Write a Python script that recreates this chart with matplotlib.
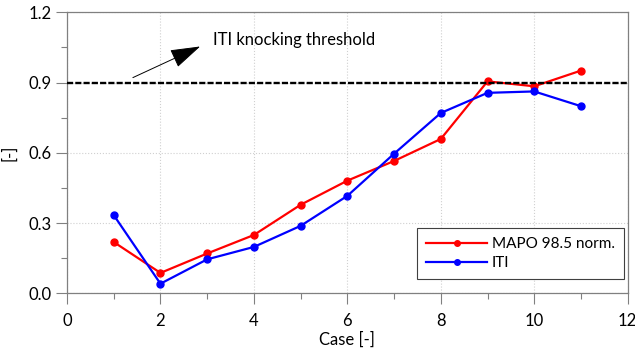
import matplotlib.pyplot as plt
from matplotlib.ticker import MultipleLocator

plt.rcParams['font.family'] = ['Lato', 'DejaVu Sans']

cases = [1, 2, 3, 4, 5, 6, 7, 8, 9, 10, 11]
mapo = [0.219, 0.087, 0.170, 0.249, 0.378, 0.481, 0.565, 0.659, 0.905, 0.884, 0.951]
iti = [0.334, 0.041, 0.145, 0.198, 0.288, 0.416, 0.596, 0.770, 0.856, 0.862, 0.799]
threshold = 0.9

fig = plt.figure(figsize=(6.35, 3.51), dpi=100)
ax = fig.add_axes([0.1055, 0.1644, 0.883, 0.8006])

ax.plot(cases, mapo, color='#ff0000', marker='o', markersize=5, lw=1.6, label='MAPO 98.5 norm.', zorder=3)
ax.plot(cases, iti, color='#0000ff', marker='o', markersize=5, lw=1.6, label='ITI', zorder=3)
ax.axhline(threshold, color='black', linestyle=(0, (2.6, 0.9)), lw=1.7, zorder=4)

# arrow pointing at the threshold label
ax.annotate('', xy=(2.85, 1.054), xytext=(1.41, 0.921),
            arrowprops=dict(arrowstyle='-|>,head_length=1.9,head_width=0.6',
                            color='black', lw=0.7, shrinkA=0, shrinkB=0))
ax.text(3.13, 1.08, 'ITI knocking threshold', fontsize=12, ha='left', va='center')

ax.set_xlim(0, 12)
ax.set_ylim(0, 1.2)
ax.xaxis.set_major_locator(MultipleLocator(2))
ax.xaxis.set_minor_locator(MultipleLocator(1))
ax.yaxis.set_major_locator(MultipleLocator(0.3))
ax.yaxis.set_minor_locator(MultipleLocator(0.15))
ax.yaxis.set_major_formatter(plt.FuncFormatter(lambda v, p: f'{v:.1f}'))

ax.grid(True, which='major', color='#d0d0d0', linestyle=':', lw=0.8)
ax.tick_params(which='major', direction='out', length=8, width=0.8, color='#808080', labelsize=12, pad=6)
ax.tick_params(which='minor', direction='out', length=4, width=0.8, color='#808080')
ax.tick_params(axis='y', pad=3)
for s in ax.spines.values():
    s.set_color('#808080')
    s.set_linewidth(0.9)

ax.set_xlabel('Case [-]', fontsize=12, labelpad=2)
ax.set_ylabel('[-]', fontsize=12, labelpad=8)

leg = ax.legend(loc='lower right', fontsize=11, fancybox=False, framealpha=1,
                edgecolor='#404040', borderpad=0.6, handlelength=4.0, handletextpad=0.3,
                labelspacing=0.3, borderaxespad=0, bbox_to_anchor=(0.9934, 0.05))
leg.get_frame().set_linewidth(0.8)
for h in leg.legend_handles:
    h.set_markersize(4)

fig.savefig('out.png', dpi=100)
